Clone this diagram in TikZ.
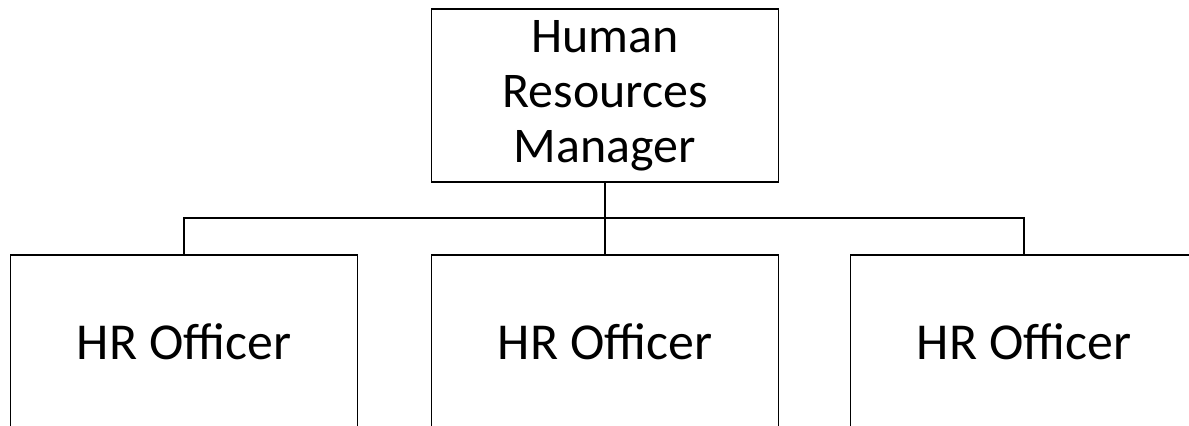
\documentclass[tikz,border=0pt]{standalone}
\usepackage{fontspec}
\setmainfont{Carlito}
\usetikzlibrary{positioning}

\tikzset{
    rolebox/.style={draw=black, line width=1.1pt, fill=white, align=center,
        minimum width=6.94cm, minimum height=3.46cm, inner sep=0pt},
    link/.style={draw=black, line width=1.1pt}
}

\begin{document}
\begin{tikzpicture}
    % Define dimensions
    \def\picwidth{23.78}
    \def\picheight{8.52}
    \def\busy{4.16}
    \def\officery{1.69}

    % Page frame
    \useasboundingbox (0,0) rectangle (\picwidth,\picheight);
    \fill[white] (0,0) rectangle (\picwidth,\picheight);
    \clip (0,0) rectangle (\picwidth,\picheight);

    % Manager (top)
    \node[rolebox, font=\fontsize{28.4}{31.3}\selectfont] (mgr) at (12.1,6.61)
        {Human\\Resources\\Manager};

    % Officers (bottom) using foreach loop
    \foreach \i/\x in {1/3.68, 2/12.1, 3/20.48} {
        \node[rolebox, font=\fontsize{29.5}{34}\selectfont] (officer\i) at (\x,\officery) {HR Officer};
    }

    % Connectors
    \coordinate (bus) at (mgr.south |- 0,\busy);
    \draw[link] (mgr.south) -- (bus);
    \draw[link] (officer1.north) |- (bus) -| (officer3.north);
    \draw[link] (bus) -- (officer2.north);
\end{tikzpicture}
\end{document}
